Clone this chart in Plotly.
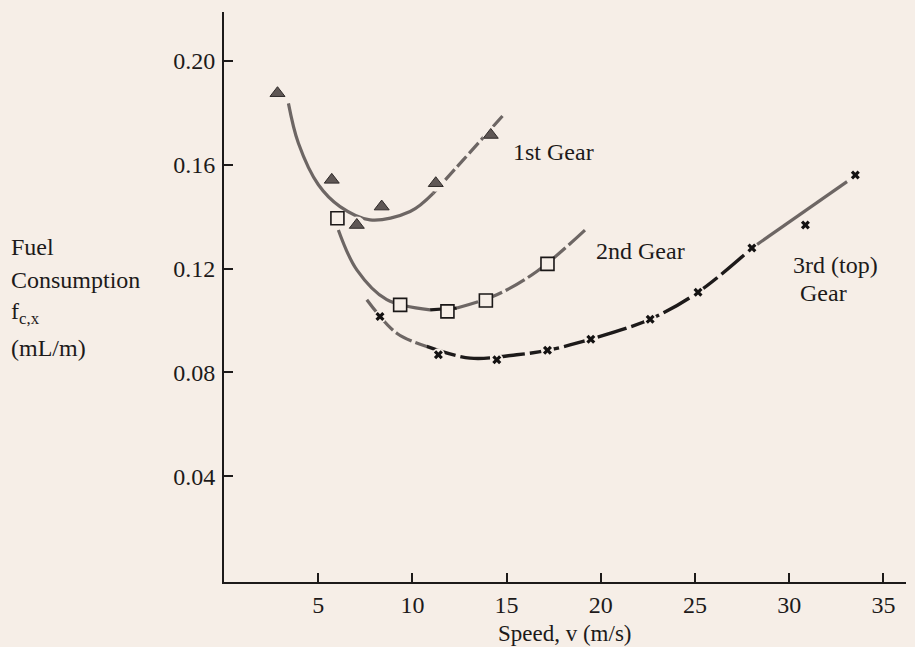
import plotly.graph_objects as go

# ---------------- data ----------------
# 1st gear measured points
g1_v = [2.84, 5.72, 7.05, 8.37, 11.24, 14.16]
g1_f = [0.1876, 0.1542, 0.1368, 0.1439, 0.1529, 0.1715]
# 1st gear fitted curve
g1c_v = [3.42, 3.95, 5.01, 6.16, 7.75, 9.88, 11.1, 12.7, 14.83]
g1c_f = [0.1837, 0.1683, 0.1523, 0.1439, 0.1388, 0.1420, 0.1490, 0.1619, 0.1792]

# 2nd gear measured points
g2_v = [6.02, 9.35, 11.86, 13.90, 17.17]
g2_f = [0.1394, 0.1060, 0.1035, 0.1077, 0.1218]
# 2nd gear fitted curve
g2c_v = [6.07, 7.05, 8.64, 10.94, 12.36, 14.48, 16.6, 19.17]
g2c_f = [0.1349, 0.1195, 0.1080, 0.1041, 0.1048, 0.1099, 0.1189, 0.1349]

# 3rd (top) gear measured points
g3_v = [8.28, 11.38, 14.48, 17.17, 19.47, 22.62, 25.16, 28.02, 30.86, 33.51]
g3_f = [0.1015, 0.0868, 0.0849, 0.0885, 0.0928, 0.1005, 0.1109, 0.1279, 0.1368, 0.1561]
# 3rd gear fitted curve
g3c_v = [7.58, 9.17, 10.76, 13.06, 15.54, 17.17, 19.47, 22.62, 25.16, 28.02, 33.07]
g3c_f = [0.1080, 0.0951, 0.0900, 0.0855, 0.0868, 0.0885, 0.0928, 0.1005, 0.1109, 0.1279, 0.1535]

x_ticks = [5, 10, 15, 20, 25, 30, 35]
y_ticks = [0.04, 0.08, 0.12, 0.16, 0.20]

curve_labels = [
    ("1st Gear", 17.47, 0.1650),
    ("2nd Gear", 22.09, 0.1266),
    ("3rd (top)", 32.45, 0.1214),
    ("Gear", 31.81, 0.1107),
]
y_title_lines = ["Fuel", "Consumption", "f<sub>c,x</sub>", "(mL/m)"]

# ---------------- styling ----------------
BG = "#f6eee7"
GRAY = "#6d6664"
DARK = "#1d1a1a"
FONT = "Liberation Serif"

fig = go.Figure()


def line(v, f, color, dash="solid", width=3.2):
    fig.add_trace(go.Scatter(x=v, y=f, mode="lines", line=dict(color=color, width=width,
                                                               dash=dash, shape="spline", smoothing=1.0),
                             hoverinfo="skip", showlegend=False))


# 1st gear curve: solid lower part, dashed upper part
line(g1c_v[:7], g1c_f[:7], GRAY)
line(g1c_v[6:], g1c_f[6:], GRAY, dash="14px,4px")
# 2nd gear curve
line(g2c_v[:4], g2c_f[:4], GRAY)
line(g2c_v[3:5], g2c_f[3:5], DARK, dash="16px,3px")
line(g2c_v[4:], g2c_f[4:], GRAY, dash="22px,4px")
# 3rd gear curve
line(g3c_v[:3], g3c_f[:3], GRAY, dash="18px,4px")
line(g3c_v[2:10], g3c_f[2:10], DARK, dash="30px,5px", width=3.4)
line(g3c_v[9:], g3c_f[9:], GRAY)

# halos (gaps in the lines around the markers)
for v, f, s in [(g1_v, g1_f, 17), (g3_v, g3_f, 13)]:
    fig.add_trace(go.Scatter(x=v, y=f, mode="markers",
                             marker=dict(symbol="circle", size=s, color=BG, line=dict(width=0)),
                             hoverinfo="skip", showlegend=False))

# markers
fig.add_trace(go.Scatter(x=g1_v, y=g1_f, mode="markers", name="1st Gear",
                         marker=dict(symbol="triangle-up", size=13, color="#5f5755",
                                     line=dict(color="#2f2a29", width=1)), showlegend=False))
fig.add_trace(go.Scatter(x=g2_v, y=g2_f, mode="markers", name="2nd Gear",
                         marker=dict(symbol="square", size=13, color=BG,
                                     line=dict(color="#1a1717", width=1.6)), showlegend=False))
fig.add_trace(go.Scatter(x=g3_v, y=g3_f, mode="markers", name="3rd Gear",
                         marker=dict(symbol="x", size=8, color="#141212",
                                     line=dict(width=0)), showlegend=False))

annotations = []
for text, v, f in curve_labels:
    annotations.append(dict(text=text, x=v, y=f, xref="x", yref="y", showarrow=False,
                            font=dict(family=FONT, size=24, color=DARK),
                            xanchor="center", yanchor="middle"))

# y-axis title block (left aligned)
y_positions = [0.588, 0.530, 0.472, 0.411]
for t, yp in zip(y_title_lines, y_positions):
    annotations.append(dict(text=t, x=-0.315, y=yp, xref="paper", yref="paper",
                            showarrow=False, xanchor="left", yanchor="middle",
                            font=dict(family=FONT, size=24, color=DARK)))

annotations.append(dict(text="Speed, v (m/s)", x=0.5, y=-0.091, xref="paper", yref="paper",
                        showarrow=False, xanchor="center", yanchor="middle",
                        font=dict(family=FONT, size=23, color=DARK)))

fig.update_layout(
    width=915, height=647, autosize=False,
    margin=dict(l=224, r=9, t=12, b=65),
    paper_bgcolor=BG, plot_bgcolor=BG,
    font=dict(family=FONT, size=24, color=DARK),
    annotations=annotations,
    xaxis=dict(range=[0, 36.2], tickvals=x_ticks, ticks="inside", ticklen=9, tickwidth=2,
               tickcolor=DARK, showline=True, linecolor=DARK, linewidth=2, showgrid=False,
               zeroline=False, ticklabelstandoff=0,
               tickfont=dict(family=FONT, size=24, color=DARK)),
    yaxis=dict(range=[-0.0008, 0.2189], tickvals=y_ticks, tickformat=".2f", ticks="inside",
               ticklen=9, tickwidth=2, tickcolor=DARK, showline=True, linecolor=DARK,
               linewidth=2, showgrid=False, zeroline=False, ticklabelstandoff=2,
               tickfont=dict(family=FONT, size=24, color=DARK)),
)

page_fix = ("document.body.style.margin='0';document.body.style.padding='0';"
            "document.body.style.background='" + BG + "';"
            "document.documentElement.style.background='" + BG + "';")
fig.write_html("out.html", post_script=page_fix, config={"displayModeBar": False})
